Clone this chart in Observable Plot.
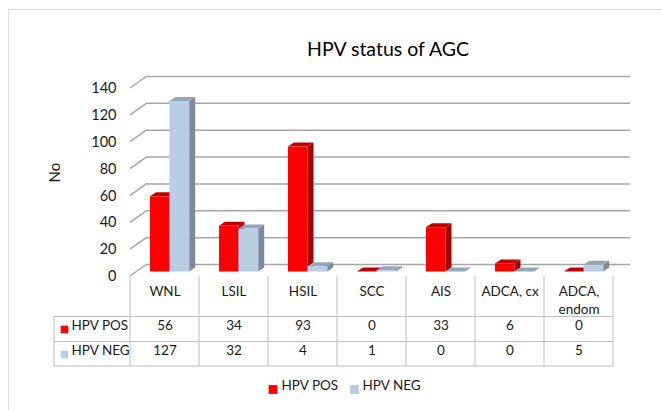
<!DOCTYPE html>
<html>
<head>
<meta charset="utf-8">
<script src="https://cdn.jsdelivr.net/npm/d3@7"></script>
<script src="https://cdn.jsdelivr.net/npm/@observablehq/plot@0.6"></script>
<style>
  html, body { margin: 0; padding: 0; background: #fff; }
  #wrap { position: relative; width: 662px; height: 410px; overflow: hidden; }
  #border { position: absolute; left: 8px; top: 9px; width: 700px; height: 450px;
            border-left: 1.5px solid #dcdcdc; border-top: 1.5px solid #dcdcdc; }
  #chart { position: absolute; left: 0; top: 0; }
</style>
</head>
<body>
<div id="wrap"><div id="border"></div><div id="chart"></div></div>
<script>
const categories = ["WNL", "LSIL", "HSIL", "SCC", "AIS", "ADCA, cx", "ADCA, endom"];
const categoryLabels = ["WNL", "LSIL", "HSIL", "SCC", "AIS", "ADCA, cx", "ADCA,\nendom"];
const hpvPos = [56, 34, 93, 0, 33, 6, 0];
const hpvNeg = [127, 32, 4, 1, 0, 0, 5];
const yTicks = [0, 20, 40, 60, 80, 100, 120, 140];
const seriesNames = ["HPV POS", "HPV NEG"];
const titleText = "HPV status of AGC";
const yLabel = "No";

const posData = categories.map((c, i) => ({cat: c, value: hpvPos[i]}));
const negData = categories.map((c, i) => ({cat: c, value: hpvNeg[i]}));

const FONT = "Lato, 'Noto Sans', sans-serif";
const TXT = "#1a1a1a";
const FRONT = 7.5;   // bar front face offset below back wall
const DX = 6, DY = 4; // bar depth
const WALLX = 17, WALLY = 12; // side wall depth

function bw(x) { return typeof x.bandwidth === "function" ? x.bandwidth() : x.bandwidth; }

function depthMark(rows, inL, inR, topFill, sideFill) {
  return (index, scales) => {
    const x = scales.x, y = scales.y, w = bw(x);
    const g = d3.create("svg:g");
    for (const r of rows) {
      const xl = x(r.cat) + inL, xr = x(r.cat) + w - inR;
      const yt = y(r.value) + FRONT, yb = y(0) + FRONT;
      g.append("path")
        .attr("d", `M${xr},${yt}L${xr + DX},${yt - DY}L${xr + DX},${yb - DY}L${xr},${yb}Z`)
        .attr("fill", sideFill);
      g.append("path")
        .attr("d", `M${xl},${yt}L${xr},${yt}L${xr + DX},${yt - DY}L${xl + DX},${yt - DY}Z`)
        .attr("fill", topFill);
    }
    return g.node();
  };
}

function wallMark(index, scales) {
  const x = scales.x, y = scales.y;
  const x0 = x(categories[0]);
  const g = d3.create("svg:g").attr("stroke", "#a6a6a6").attr("stroke-width", 1.5).attr("fill", "none");
  for (const t of yTicks) {
    g.append("path").attr("d", `M${x0},${y(t) + WALLY}L${x0 + WALLX},${y(t)}`);
  }
  return g.node();
}

function tableMark(index, scales, values, dims) {
  const x = scales.x, y = scales.y, w = bw(x);
  const base = y(0);
  const xs = categories.map(c => x(c)).concat([x(categories[categories.length - 1]) + w]);
  const xl = xs[0], xr = xs[xs.length - 1];
  const top = base + WALLY, r1 = base + 52.5, r2 = base + 77.5, r3 = base + 102;
  const tableLeft = xl - 76;
  const g = d3.create("svg:g").attr("stroke", "#bfbfbf").attr("stroke-width", 1).attr("fill", "none");
  for (const xv of xs) g.append("path").attr("d", `M${xv},${top}V${r3}`);
  for (const yv of [r1, r2, r3]) g.append("path").attr("d", `M${tableLeft},${yv}H${xr}`);
  g.append("path").attr("d", `M${tableLeft},${r1}V${r3}`);
  return g.node();
}

const chart = Plot.plot({
  width: 662,
  height: 410,
  marginLeft: 130,
  marginRight: 49,
  marginTop: 76,
  marginBottom: 146,
  style: {fontFamily: FONT, background: "transparent", overflow: "visible"},
  x: {type: "band", domain: categories, padding: 0, round: false, axis: null},
  y: {domain: [0, 140], axis: null},
  marks: [
    Plot.ruleY(yTicks, {dx: WALLX, stroke: "#a6a6a6", strokeWidth: 1.5}),
    wallMark,
    depthMark(posData, 20, 29.5, "#c00000", "#a30000"),
    Plot.barY(posData, {x: "cat", y: "value", fill: "#ff0000", insetLeft: 20, insetRight: 29.5, dy: FRONT}),
    depthMark(negData, 39.5, 9.8, "#95a6ba", "#7b8a9c"),
    Plot.barY(negData, {x: "cat", y: "value", fill: "#b9cde5", insetLeft: 39.5, insetRight: 9.8, dy: FRONT}),
    // y tick labels
    Plot.text(yTicks, {y: d => d, frameAnchor: "left", dx: -14, dy: WALLY, textAnchor: "end", text: d => String(d), fontSize: 14.5, fill: TXT}),
    // y axis label
    Plot.text([yLabel], {frameAnchor: "left", dx: -75, dy: 12, rotate: -90, fontSize: 15, fill: TXT}),
    // title
    Plot.text([titleText], {frameAnchor: "top", dx: 16, dy: -34, fontSize: 19.5, fill: "#000"}),
    // table
    tableMark,
    Plot.text(categories, {x: d => d, text: (d, i) => categoryLabels[i], frameAnchor: "bottom", dy: 19, lineAnchor: "top", lineHeight: 1.3, fontSize: 13.5, fill: TXT}),
    Plot.text(posData, {x: "cat", text: d => String(d.value), frameAnchor: "bottom", dy: 65, fontSize: 13.5, fill: TXT}),
    Plot.text(negData, {x: "cat", text: d => String(d.value), frameAnchor: "bottom", dy: 90, fontSize: 13.5, fill: TXT}),
    Plot.dot([seriesNames[0]], {frameAnchor: "bottom-left", dx: -66, dy: 65, symbol: "square", r: 4.3, fill: "#ff0000"}),
    Plot.dot([seriesNames[1]], {frameAnchor: "bottom-left", dx: -66, dy: 90, symbol: "square", r: 4.3, fill: "#b9cde5"}),
    Plot.text([seriesNames[0]], {frameAnchor: "bottom-left", dx: -59, dy: 65, textAnchor: "start", fontSize: 13.5, fill: TXT}),
    Plot.text([seriesNames[1]], {frameAnchor: "bottom-left", dx: -59, dy: 90, textAnchor: "start", fontSize: 13.5, fill: TXT}),
    // legend
    Plot.dot([seriesNames[0]], {frameAnchor: "bottom", dx: -99, dy: 125, symbol: "square", r: 5, fill: "#ff0000"}),
    Plot.text([seriesNames[0]], {frameAnchor: "bottom", dx: -90.5, dy: 125, textAnchor: "start", fontSize: 13.5, fill: TXT}),
    Plot.dot([seriesNames[1]], {frameAnchor: "bottom", dx: -17.5, dy: 125, symbol: "square", r: 5, fill: "#b9cde5"}),
    Plot.text([seriesNames[1]], {frameAnchor: "bottom", dx: -9.5, dy: 125, textAnchor: "start", fontSize: 13.5, fill: TXT})
  ]
});
document.getElementById("chart").appendChild(chart);
</script>
</body>
</html>
